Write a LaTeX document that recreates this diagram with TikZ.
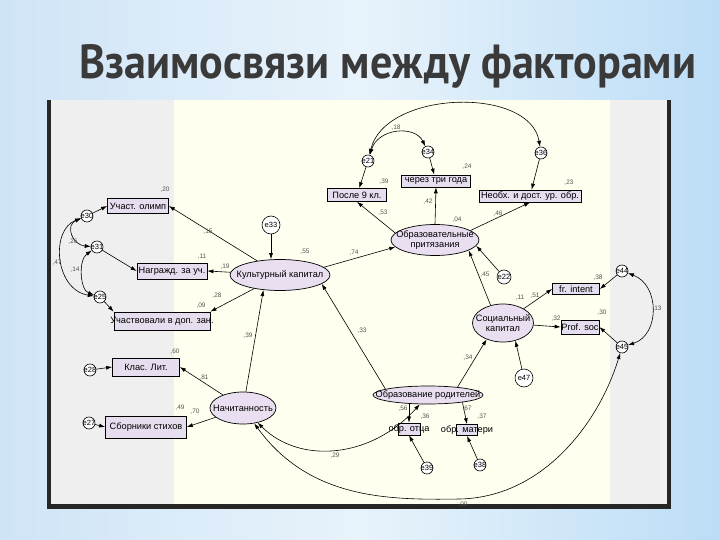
\documentclass[tikz,border=0pt]{standalone}
\usepackage{fontspec}
\setmainfont{Liberation Sans}
\newfontfamily\titlefont{PT Sans}
\usetikzlibrary{arrows.meta,shapes.geometric}
\definecolor{bgmid}{HTML}{E8F3FB}
\definecolor{bgleft}{HTML}{CFE4F6}
\definecolor{bgright}{HTML}{BCDDF6}
\definecolor{panelgray}{HTML}{EFEFEF}
\definecolor{panelyellow}{HTML}{FFFFF0}
\definecolor{boxfill}{HTML}{E6DEEF}
\definecolor{ellfill}{HTML}{E9DFF0}
\definecolor{numcol}{HTML}{555555}
\definecolor{titlecol}{HTML}{3A3A3A}
\newcommand{\boxfont}{\fontsize{9.2}{10}\selectfont}
\newcommand{\errfont}{\fontsize{7.5}{8}\selectfont}
\newcommand{\numfont}{\fontsize{6.5}{7}\selectfont}
\tikzset{
  obs/.style={draw=black, line width=0.7pt, fill=boxfill, inner sep=0pt,
    label={[font=\boxfont, inner sep=0pt]center:#1}},
  lat/.style={draw=black, ellipse, line width=0.7pt, fill=ellfill, inner sep=0pt,
    label={[font=\boxfont, align=center, inner sep=0pt]center:#1}},
  err/.style={draw=black, circle, line width=0.6pt, fill=white, inner sep=0pt, minimum size=12pt,
    label={[font=\errfont, inner sep=0pt]center:#1}},
  num/.style={font=\numfont, text=numcol, inner sep=0pt},
  arr/.style={line width=0.6pt, -{Latex[length=6pt, width=4pt]}},
  cov/.style={line width=0.6pt, {Latex[length=6pt, width=4pt]}-{Latex[length=6pt, width=4pt]}},
}
\begin{document}
\begin{tikzpicture}[x=1pt,y=-1pt]
\useasboundingbox (0,0) rectangle (720,540);
% background
\shade[left color=bgleft, right color=bgright, middle color=bgmid] (0,0) rectangle (720,540);
% title
\node[anchor=base west, inner sep=0pt, text=titlecol] (title) at (79,79)
  {\resizebox{617pt}{34pt}{\titlefont\bfseries Взаимосвязи между факторами}};
% panel
\fill[black!85] (47,100) rectangle (671,509);
\fill[panelgray] (51,100) rectangle (667,504);
\fill[panelyellow] (174,100) rectangle (610,504);

% observed boxes
\node[obs=Участ. олимп, minimum width=61pt, minimum height=15pt] (olimp) at (138,206) {};
\node[obs=Награжд. за уч., minimum width=70pt, minimum height=16pt] (nagr) at (172,271) {};
\node[obs=Участвовали в доп. зан., minimum width=96pt, minimum height=18pt] (uchast) at (162,321) {};
\node[obs=Клас. Лит., minimum width=67pt, minimum height=18pt] (klas) at (146,367) {};
\node[obs=Сборники стихов, minimum width=81pt, minimum height=22pt] (sborn) at (146,427) {};
\node[obs=После 9 кл., minimum width=59pt, minimum height=13pt] (posle) at (357,195) {};
\node[obs=через три года, minimum width=69pt, minimum height=12pt] (cherez) at (436,181) {};
\node[obs=Необх. и дост. ур. обр., minimum width=102pt, minimum height=12pt] (neobh) at (530,196) {};
\node[obs=fr. intent, minimum width=47pt, minimum height=11pt] (frint) at (576,289) {};
\node[obs=Prof. soc, minimum width=38pt, minimum height=14pt] (prof) at (580,327) {};
\node[obs=обр. отца, minimum width=22pt, minimum height=12pt] (otca) at (409,429) {};
\node[obs=обр. матери, minimum width=21pt, minimum height=11pt] (materi) at (467,430) {};

% latent ellipses
\node[lat=Культурный капитал, minimum width=100pt, minimum height=31pt] (kult) at (280,275) {};
\node[lat={Образовательные\\притязания}, minimum width=88pt, minimum height=31pt] (obraz) at (435,240) {};
\node[lat={Социальный\\капитал}, minimum width=61pt, minimum height=38pt] (soc) at (503,323) {};
\node[lat=Начитанность, minimum width=66pt, minimum height=32pt] (nach) at (243,408) {};
\node[lat=Образование родителей, minimum width=110pt, minimum height=18pt] (rod) at (428,395) {};

% error terms
\node[err=e30] (e30) at (87,216) {};
\node[err=e31] (e31) at (97,247) {};
\node[err=e25] (e25) at (100,297) {};
\node[err=e28] (e28) at (90,370) {};
\node[err=e27] (e27) at (89,423) {};
\node[err=e33, minimum size=18pt] (e33) at (271,225) {};
\node[err=e21] (e21) at (368,161) {};
\node[err=e34] (e34) at (428,152) {};
\node[err=e36] (e36) at (541,153) {};
\node[err=e22, minimum size=14pt] (e22) at (504,277) {};
\node[err=e44] (e44) at (622,271) {};
\node[err=e45] (e45) at (622,347) {};
\node[err=e47, minimum size=18pt] (e47) at (524,378) {};
\node[err=e39] (e39) at (427,468) {};
\node[err=e38] (e38) at (480,465) {};
\coordinate (c00) at (460,499);

% regression arrows
\draw[arr] (e30) -- (olimp.west);
\draw[arr] (e31) -- (nagr.west);
\draw[arr] (e25) -- (uchast.north west);
\draw[arr] (e28) -- (klas.west);
\draw[arr] (e27) -- (sborn.west);
\draw[arr] (kult) -- (olimp.east);
\draw[arr] (kult) -- (nagr.east);
\draw[arr] (kult) -- (uchast.north east);
\draw[arr] (e33) -- (e33 |- kult.north);
\draw[arr] (nach.80) -- (kult.222);
\draw[arr] (nach) -- (klas.east);
\draw[arr] (nach) -- (sborn.east);
\draw[arr] (rod.172) -- (kult.-12);
\draw[arr] (kult.10) -- (obraz.190);
\draw[arr] (rod.15) -- (soc.225);
\draw[arr] (soc.125) -- (obraz.-17);
\draw[arr] (e22) -- (obraz.-8);
\draw[arr] (obraz.170) -- (posle.south);
\draw[arr] (obraz.north) -- (cherez.south);
\draw[arr] (obraz.15) -- (neobh.south);
\draw[arr] (e21) -- (posle);
\draw[arr] (e34) -- (cherez);
\draw[arr] (e36) -- (neobh);
\draw[arr] (soc) -- (frint.west);
\draw[arr] (soc) -- (prof.west);
\draw[arr] (e44) -- (frint.east);
\draw[arr] (e45) -- (prof.east);
\draw[arr] (e47) -- (soc.-55);
\draw[arr] (otca.north |- rod.south) -- (otca.north);
\draw[arr] (rod.-12) -- (materi.north);
\draw[arr] (e39) -- (otca.south);
\draw[arr] (e38) -- (materi.south);

% covariances
\draw[cov] (e21) .. controls (378,128) and (415,125) .. (e34);
\draw[cov] (e21) .. controls (385,90) and (530,86) .. (e36);
\draw[cov] (e30) .. controls (65,225) and (72,245) .. (e31);
\draw[cov] (e31) .. controls (78,260) and (80,290) .. (e25);
\draw[cov] (e30) .. controls (50,230) and (55,290) .. (e25);
\draw[cov] (e44) .. controls (660,285) and (660,335) .. (e45);
\draw[cov] (nach) .. controls (300,465) and (372,458) .. (rod);
\draw[cov] (nach) .. controls (310,500) and (390,500) .. (c00) .. controls (545,497) and (600,420) .. (e45);

% coefficients
\node[num] at (165,190) {,20};
\node[num] at (208,232) {,15};
\node[num] at (202,257) {,11};
\node[num] at (225,267) {,19};
\node[num] at (217,296) {,28};
\node[num] at (201,306) {,09};
\node[num] at (248,336) {,39};
\node[num] at (175,352) {,60};
\node[num] at (204,378) {,81};
\node[num] at (180,408) {,49};
\node[num] at (195,412) {,70};
\node[num] at (73,242) {,26};
\node[num] at (75,270) {,14};
\node[num] at (57,263) {,47};
\node[num] at (305,252) {,55};
\node[num] at (354,253) {,74};
\node[num] at (362,331) {,33};
\node[num] at (396,128) {,18};
\node[num] at (384,182) {,39};
\node[num] at (467,167) {,24};
\node[num] at (569,183) {,23};
\node[num] at (383,213) {,53};
\node[num] at (428,202) {,42};
\node[num] at (457,220) {,04};
\node[num] at (498,214) {,46};
\node[num] at (485,275) {,45};
\node[num] at (520,298) {,11};
\node[num] at (535,296) {,51};
\node[num] at (598,278) {,38};
\node[num] at (602,313) {,30};
\node[num] at (556,319) {,32};
\node[num] at (657,309) {,13};
\node[num] at (468,358) {,34};
\node[num] at (403,409) {,56};
\node[num] at (425,417) {,36};
\node[num] at (467,409) {,67};
\node[num] at (482,417) {,37};
\node[num] at (335,456) {,29};
\node[num] at (463,505) {,00};
\end{tikzpicture}
\end{document}
